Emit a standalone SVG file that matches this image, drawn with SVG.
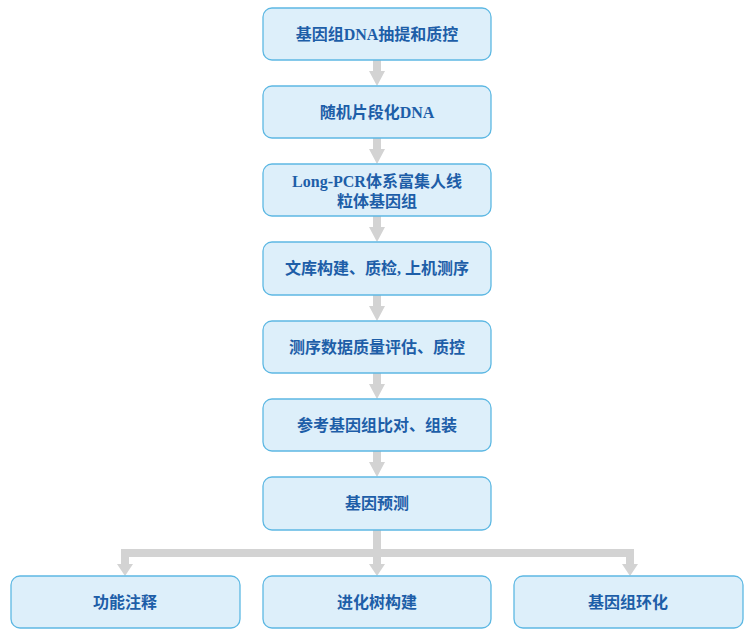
<svg xmlns="http://www.w3.org/2000/svg" width="752" height="637" viewBox="0 0 752 637">
<style>
.box{fill:#ddeffa;stroke:#5db8e3;stroke-width:1.3}
.t{font-family:"Liberation Serif","Noto Sans CJK SC",serif;font-weight:bold;font-size:16px;fill:#1d5ea8;text-anchor:middle}
.ln{stroke:#d3d3d3;stroke-width:8;fill:none}
.hd{fill:#d3d3d3}
</style>
<rect width="752" height="637" fill="#ffffff"/>
<g id="connectors">
<path class="ln" d="M377 60V72M377 138V150M377 216V228M377 295V307M377 373V385M377 451V463M377 530V565"/>
<path class="ln" d="M125 565V553H630V565"/>
<path class="hd" d="M369 71H385L377 86ZM369 149H385L377 164ZM369 227H385L377 242ZM369 306H385L377 321ZM369 384H385L377 399ZM369 462H385L377 477ZM369 564H385L377 576ZM117 564H133L125 576ZM622 564H638L630 576Z"/>
</g>
<g id="n1"><rect class="box" x="263" y="8" width="228" height="52" rx="9"/><text class="t" x="377" y="40">基因组DNA抽提和质控</text></g>
<g id="n2"><rect class="box" x="263" y="86" width="228" height="52" rx="9"/><text class="t" x="377" y="118">随机片段化DNA</text></g>
<g id="n3"><rect class="box" x="263" y="164" width="228" height="52" rx="9"/><text class="t" x="377" y="187">Long-PCR体系富集人线</text><text class="t" x="377" y="207">粒体基因组</text></g>
<g id="n4"><rect class="box" x="263" y="242" width="228" height="53" rx="9"/><text class="t" x="377" y="274">文库构建、质检, 上机测序</text></g>
<g id="n5"><rect class="box" x="263" y="321" width="228" height="52" rx="9"/><text class="t" x="377" y="353">测序数据质量评估、质控</text></g>
<g id="n6"><rect class="box" x="263" y="399" width="228" height="52" rx="9"/><text class="t" x="377" y="431">参考基因组比对、组装</text></g>
<g id="n7"><rect class="box" x="263" y="477" width="228" height="53" rx="9"/><text class="t" x="377" y="509">基因预测</text></g>
<g id="n8"><rect class="box" x="11" y="576" width="229" height="52" rx="9"/><text class="t" x="125" y="608">功能注释</text></g>
<g id="n9"><rect class="box" x="263" y="576" width="228" height="52" rx="9"/><text class="t" x="377" y="608">进化树构建</text></g>
<g id="n10"><rect class="box" x="514" y="576" width="229" height="52" rx="9"/><text class="t" x="628" y="608">基因组环化</text></g>
</svg>
